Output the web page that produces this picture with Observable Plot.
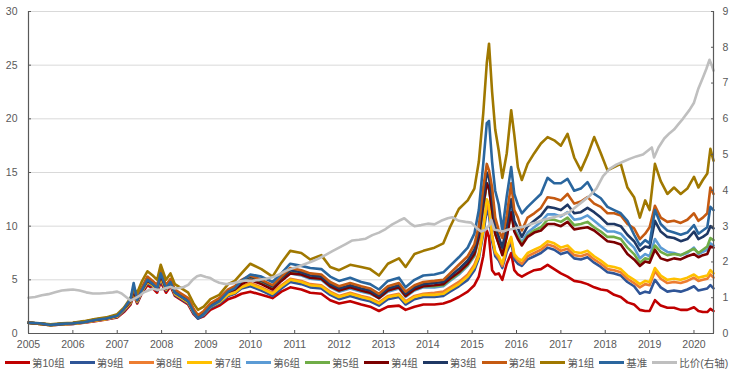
<!DOCTYPE html>
<html><head><meta charset="utf-8">
<script src="https://cdn.jsdelivr.net/npm/d3@7"></script>
<script src="https://cdn.jsdelivr.net/npm/@observablehq/plot@0.6"></script>
<style>
body{margin:0;background:#fff;font-family:"Liberation Sans","Noto Sans CJK SC",sans-serif;}
#chart{width:738px;height:372px;position:relative;overflow:hidden;}
.legend{position:absolute;left:5px;top:355px;white-space:nowrap;font-size:10.5px;color:#595959;display:flex;}
.item{display:flex;align-items:center;margin-right:5px;}
.sw{width:25px;height:3px;margin-right:2px;}
</style></head><body><div id="chart"></div><script>
const names = ["第10组","第9组","第8组","第7组","第6组","第5组","第4组","第3组","第2组","第1组","基准"];
const colors = ["#C00000","#2F5597","#ED7D31","#FFC000","#5B9BD5","#70AD47","#7B0000","#1F3864","#C55A11","#A07800","#2A669E"];
const ratioName = "比价(右轴)";
const ratioColor = "#BFBFBF";
const leftTicks = [0,5,10,15,20,25,30];
const rightTicks = [0,1,2,3,4,5,6,7,8,9];
const yearTicks = [2005,2006,2007,2008,2009,2010,2011,2012,2013,2014,2015,2016,2017,2018,2019,2020];

const dates = [2005.0,2005.25,2005.5,2005.75,2006.0,2006.25,2006.5,2006.75,2007.0,2007.15,2007.3,2007.37,2007.45,2007.55,2007.68,2007.8,2007.9,2007.98,2008.1,2008.2,2008.3,2008.45,2008.6,2008.72,2008.82,2008.95,2009.1,2009.3,2009.5,2009.65,2009.8,2010.0,2010.25,2010.5,2010.7,2010.9,2011.15,2011.35,2011.6,2011.8,2012.0,2012.25,2012.5,2012.7,2012.9,2013.1,2013.35,2013.5,2013.7,2013.9,2014.15,2014.35,2014.5,2014.7,2014.9,2015.05,2015.15,2015.25,2015.33,2015.38,2015.45,2015.52,2015.6,2015.68,2015.78,2015.88,2015.95,2016.03,2016.12,2016.25,2016.4,2016.55,2016.7,2016.85,2017.0,2017.15,2017.3,2017.45,2017.6,2017.75,2017.9,2018.05,2018.2,2018.35,2018.5,2018.65,2018.78,2018.9,2019.0,2019.12,2019.25,2019.4,2019.55,2019.7,2019.85,2020.0,2020.1,2020.2,2020.3,2020.37,2020.44];

const g10 = [1.0,0.9,0.78,0.85,0.9,1.0,1.15,1.3,1.5,2.0,2.7,3.6,2.8,3.7,4.5,4.2,3.8,4.8,3.8,4.4,3.5,3.1,2.7,1.8,1.4,1.6,2.2,2.6,3.2,3.4,3.7,3.9,3.6,3.3,3.9,4.3,4.1,3.8,3.7,3.1,2.8,3.0,2.7,2.5,2.1,2.5,2.6,2.2,2.5,2.7,2.7,2.8,3.0,3.4,3.9,4.5,5.3,7.2,9.6,9.0,5.9,5.5,5.6,5.0,6.5,7.5,5.9,5.5,5.3,5.6,5.9,6.0,6.4,6.0,5.6,5.3,4.9,4.8,4.6,4.3,4.1,4.0,3.6,3.4,2.9,2.7,2.2,2.1,2.1,3.1,2.6,2.4,2.4,2.2,2.2,2.45,2.1,2.0,2.0,2.3,2.1];
const g9 = [1.0,0.9,0.78,0.85,0.9,1.02,1.18,1.32,1.55,2.1,2.8,3.8,2.9,3.8,4.7,4.4,4.0,5.0,4.0,4.6,3.6,3.2,2.8,1.9,1.4,1.7,2.4,2.8,3.5,3.7,4.2,4.4,4.0,3.5,4.2,4.8,4.6,4.3,4.2,3.6,3.2,3.5,3.2,3.0,2.6,3.2,3.4,2.7,3.2,3.4,3.4,3.5,3.9,4.4,5.0,5.9,7.0,9.3,11.5,11.0,8.6,7.2,6.8,6.1,7.6,8.5,6.9,6.5,6.3,6.9,7.2,7.5,8.0,7.8,7.4,7.6,7.0,6.9,7.1,6.6,6.2,5.7,5.6,5.4,4.8,4.4,3.7,3.9,3.8,5.0,4.3,3.9,4.0,3.9,4.1,4.4,4.0,4.1,4.2,4.5,4.2];
const g8 = [1.0,0.9,0.78,0.85,0.92,1.03,1.2,1.34,1.58,2.2,2.9,3.9,3.0,3.9,4.8,4.5,4.1,5.2,4.1,4.7,3.7,3.3,2.9,2.0,1.5,1.8,2.5,2.9,3.7,3.9,4.4,4.7,4.3,3.8,4.5,5.1,4.9,4.6,4.5,3.9,3.5,3.8,3.5,3.3,2.9,3.5,3.7,3.0,3.5,3.7,3.8,3.9,4.3,4.8,5.5,6.4,7.5,10.0,12.0,11.5,9.2,7.5,7.0,6.3,7.9,8.8,7.2,6.8,6.5,7.2,7.5,7.8,8.3,8.1,7.7,7.9,7.3,7.2,7.4,6.9,6.5,6.0,5.9,5.7,5.1,4.7,4.3,4.6,4.5,5.8,5.1,4.7,4.8,4.7,4.9,5.2,4.9,5.0,5.1,5.5,5.2];
const g7 = [1.0,0.9,0.78,0.86,0.92,1.04,1.22,1.36,1.6,2.2,2.9,3.9,3.0,3.9,4.8,4.5,4.1,5.2,4.1,4.7,3.7,3.3,2.9,2.0,1.5,1.8,2.5,2.9,3.6,3.8,4.3,4.6,4.2,3.7,4.4,5.0,4.8,4.5,4.4,3.8,3.4,3.7,3.4,3.2,2.8,3.4,3.6,2.9,3.4,3.6,3.6,3.7,4.1,4.6,5.3,6.2,7.2,9.6,12.5,12.0,9.0,7.6,7.2,6.5,8.1,9.0,7.4,7.0,6.8,7.5,7.8,8.1,8.6,8.4,8.0,8.2,7.6,7.5,7.7,7.2,6.8,6.3,6.2,6.0,5.4,5.0,4.6,4.9,4.8,6.1,5.4,5.0,5.1,5.0,5.2,5.5,5.2,5.3,5.4,5.9,5.6];
const g6 = [1.0,0.92,0.8,0.88,0.95,1.08,1.28,1.42,1.68,2.3,3.1,4.1,3.2,4.1,5.1,4.7,4.3,5.5,4.3,4.9,3.9,3.5,3.1,2.1,1.6,1.9,2.6,3.1,3.9,4.1,4.7,5.1,4.7,4.2,5.0,5.6,5.4,5.1,5.0,4.3,3.9,4.2,3.9,3.7,3.3,3.9,4.2,3.4,4.0,4.3,4.3,4.4,4.9,5.5,6.3,7.2,8.8,11.8,14.0,13.5,11.5,9.3,8.4,7.5,9.2,11.5,9.8,9.2,8.5,9.4,9.9,10.4,11.1,11.1,10.9,11.3,10.6,10.7,11.0,10.5,10.0,9.5,9.5,9.3,8.6,8.0,7.0,7.4,7.2,8.8,8.0,7.6,7.5,7.3,7.5,8.0,7.4,7.6,7.8,8.4,8.2];
const g5 = [1.0,0.92,0.8,0.88,0.95,1.08,1.28,1.42,1.68,2.3,3.0,4.0,3.2,4.1,5.0,4.7,4.3,5.5,4.3,4.9,3.9,3.5,3.1,2.1,1.6,1.9,2.6,3.1,3.9,4.1,4.7,5.1,4.7,4.2,5.0,5.7,5.5,5.2,5.1,4.4,4.0,4.3,4.0,3.8,3.3,4.0,4.3,3.5,4.1,4.4,4.4,4.5,5.0,5.6,6.4,7.3,8.9,11.8,14.0,13.5,11.5,9.3,8.4,7.4,9.1,11.3,9.6,9.0,8.3,9.1,9.6,9.9,10.6,10.6,10.4,10.8,10.1,10.2,10.4,9.9,9.5,9.0,9.0,8.8,8.0,7.4,6.6,7.0,6.9,8.2,7.6,7.3,7.4,7.3,7.6,7.9,7.5,7.8,8.1,8.9,8.7];
const g4 = [1.0,0.92,0.8,0.88,0.95,1.07,1.27,1.4,1.66,2.3,3.0,4.0,3.1,4.0,4.9,4.6,4.2,5.4,4.2,4.8,3.8,3.4,3.0,2.1,1.6,1.9,2.6,3.1,3.9,4.1,4.6,5.0,4.6,4.1,4.9,5.6,5.5,5.2,5.1,4.4,4.0,4.3,4.0,3.8,3.3,4.0,4.3,3.5,4.1,4.4,4.5,4.6,5.1,5.7,6.5,7.4,9.0,12.0,14.0,13.5,11.5,9.3,8.3,7.3,9.0,11.3,9.5,8.8,8.2,9.0,9.4,9.6,10.2,10.2,10.0,10.4,9.7,9.8,9.9,9.6,9.1,8.6,8.5,8.3,7.4,6.9,6.3,6.7,6.6,7.8,7.0,6.8,7.0,6.9,7.2,7.4,7.1,7.3,7.4,8.1,8.0];
const g3 = [1.0,0.93,0.82,0.9,0.97,1.1,1.3,1.45,1.7,2.3,3.1,4.2,3.3,4.2,5.2,4.8,4.4,5.7,4.4,5.0,4.0,3.6,3.2,2.2,1.6,2.0,2.7,3.2,4.0,4.3,4.9,5.3,4.9,4.4,5.2,5.9,5.7,5.4,5.3,4.6,4.2,4.5,4.2,4.0,3.5,4.2,4.5,3.7,4.3,4.6,4.7,4.8,5.3,6.0,6.8,7.8,9.5,12.5,15.0,14.5,12.5,10.0,9.0,8.0,10.0,12.5,10.5,9.8,9.0,10.0,10.5,11.0,11.8,11.7,11.5,12.0,11.2,11.3,11.7,11.3,10.8,10.2,10.2,10.0,9.2,8.6,7.7,8.1,8.0,10.5,9.5,9.0,8.9,8.6,8.8,9.5,8.8,9.0,9.3,10.0,9.8];
const g2 = [1.0,0.93,0.82,0.9,0.97,1.1,1.3,1.45,1.7,2.3,3.1,4.3,3.3,4.2,5.3,4.9,4.5,5.9,4.5,5.1,4.1,3.7,3.3,2.3,1.7,2.1,2.8,3.3,4.1,4.4,5.0,5.4,5.0,4.5,5.3,6.1,5.9,5.6,5.5,4.8,4.4,4.7,4.4,4.2,3.7,4.4,4.7,3.9,4.5,4.8,4.9,5.0,5.6,6.4,7.2,8.3,10.0,13.6,15.8,15.2,13.6,10.8,9.6,8.9,11.0,14.0,11.5,10.8,9.6,10.8,11.2,11.7,12.7,12.6,12.4,13.0,12.1,12.3,12.7,12.1,11.8,11.2,11.2,11.0,10.2,9.8,8.8,9.3,9.9,11.9,10.8,10.4,10.5,10.3,10.6,11.2,10.5,10.8,11.2,13.6,13.0];
const g1 = [1.0,0.95,0.85,0.95,1.0,1.15,1.35,1.5,1.8,2.4,3.3,4.2,3.8,4.8,5.8,5.4,5.0,6.4,5.0,5.6,4.6,4.2,3.8,2.8,2.2,2.5,3.2,3.6,4.6,4.9,5.6,6.5,6.0,5.3,6.6,7.7,7.5,6.9,7.3,6.2,5.9,6.4,6.2,6.0,5.4,6.5,7.0,6.2,7.4,7.7,8.0,8.4,9.9,11.6,12.4,13.5,16.0,20.5,25.2,27.0,22.5,19.0,17.0,14.5,16.8,20.8,18.5,15.5,14.3,15.8,16.8,17.7,18.3,18.0,17.5,18.6,16.4,15.2,16.6,18.3,16.8,15.2,15.5,15.8,13.6,12.7,10.8,12.4,11.5,15.8,14.2,13.0,13.6,13.0,13.5,14.6,13.6,14.3,14.9,17.2,16.1];
const bench = [1.0,0.95,0.8,0.9,0.95,1.05,1.25,1.4,1.65,2.3,3.2,4.7,3.1,4.0,5.0,4.6,4.2,5.6,4.2,4.8,3.8,3.4,3.0,2.0,1.4,1.8,2.5,3.0,3.9,4.2,4.9,5.5,5.3,4.8,5.6,6.5,6.3,6.1,6.0,5.3,4.9,5.2,4.8,4.6,4.1,4.9,5.2,4.3,5.0,5.4,5.5,5.7,6.3,7.1,8.0,9.3,11.5,15.8,19.6,19.8,16.0,13.3,12.0,9.6,12.8,15.5,13.0,12.0,11.2,11.8,12.4,13.0,14.5,14.0,14.0,14.4,13.3,13.5,14.1,13.0,12.6,11.8,11.5,11.2,10.5,9.2,8.2,8.7,8.4,11.5,10.2,9.6,9.4,9.2,9.4,10.1,9.3,9.6,9.9,11.8,11.5];
const seriesValues = [g10,g9,g8,g7,g6,g5,g4,g3,g2,g1,bench];

const ratioDates = [2005.0,2005.15,2005.3,2005.45,2005.6,2005.75,2005.9,2006.0,2006.15,2006.3,2006.45,2006.6,2006.75,2006.9,2007.0,2007.1,2007.2,2007.3,2007.4,2007.5,2007.6,2007.7,2007.8,2007.9,2008.0,2008.1,2008.2,2008.3,2008.4,2008.5,2008.6,2008.7,2008.8,2008.88,2009.0,2009.1,2009.2,2009.3,2009.45,2009.6,2009.75,2009.9,2010.05,2010.2,2010.35,2010.5,2010.65,2010.8,2010.95,2011.1,2011.25,2011.4,2011.55,2011.7,2011.85,2012.0,2012.15,2012.3,2012.45,2012.6,2012.75,2012.9,2013.05,2013.2,2013.35,2013.47,2013.6,2013.7,2013.85,2014.0,2014.15,2014.3,2014.45,2014.55,2014.7,2014.85,2014.98,2015.1,2015.2,2015.3,2015.4,2015.43,2015.5,2015.6,2015.7,2015.8,2015.9,2016.0,2016.15,2016.3,2016.45,2016.6,2016.75,2016.9,2017.05,2017.2,2017.35,2017.5,2017.65,2017.8,2017.95,2018.1,2018.25,2018.4,2018.55,2018.7,2018.85,2019.0,2019.05,2019.1,2019.2,2019.33,2019.45,2019.55,2019.65,2019.75,2019.9,2020.0,2020.1,2020.2,2020.28,2020.35,2020.4,2020.44];
const ratioValues = [1.0,1.02,1.07,1.1,1.15,1.2,1.22,1.23,1.2,1.15,1.12,1.12,1.13,1.15,1.17,1.12,1.02,0.92,0.98,1.05,1.15,1.2,1.25,1.22,1.23,1.27,1.3,1.26,1.27,1.3,1.36,1.5,1.6,1.63,1.58,1.55,1.47,1.42,1.38,1.4,1.45,1.48,1.47,1.5,1.53,1.57,1.65,1.75,1.82,1.88,1.95,2.02,2.1,2.2,2.3,2.4,2.5,2.6,2.62,2.65,2.75,2.82,2.92,3.05,3.15,3.22,3.08,3.0,3.03,3.07,3.05,3.15,3.22,3.25,3.15,3.12,3.1,2.95,2.85,2.9,3.05,3.18,2.9,2.88,2.85,2.9,2.92,2.95,2.98,3.05,3.1,3.17,3.22,3.27,3.32,3.4,3.55,3.7,3.85,4.05,4.4,4.6,4.72,4.8,4.88,4.95,5.0,5.15,5.2,4.92,5.2,5.45,5.6,5.7,5.85,6.0,6.25,6.45,6.85,7.15,7.4,7.65,7.5,7.35];

const rows = [];
names.forEach((s, i) => dates.forEach((t, j) => rows.push({s, t, v: seriesValues[i][j]})));
const ratioRows = ratioDates.map((t, j) => ({t, r: ratioValues[j]}));
const scaleR = 30 / 9;
const xEnd = dates[dates.length - 1];
const axisColor = "#595959";

const chart = Plot.plot({
  width: 738, height: 354,
  marginLeft: 28, marginRight: 25, marginTop: 11, marginBottom: 21,
  x: {domain: [2005, xEnd]},
  y: {domain: [0, 30]},
  color: {domain: names, range: colors},
  style: {fontFamily: '"Liberation Sans","Noto Sans CJK SC",sans-serif', fontSize: "10.5px", color: "#595959", background: "#fff"},
  marks: [
    Plot.gridY(leftTicks.filter(t => t > 0), {stroke: "#D9D9D9", strokeOpacity: 1, strokeWidth: 1}),
    Plot.line(rows, {x: "t", y: "v", z: "s", stroke: "s", strokeWidth: 2.6, strokeLinejoin: "round"}),
    Plot.line(ratioRows, {x: "t", y: d => d.r * scaleR, stroke: ratioColor, strokeWidth: 2.6, strokeLinejoin: "round"}),
    Plot.ruleX([2005], {stroke: axisColor, strokeWidth: 1.2}),
    Plot.ruleX([xEnd], {stroke: axisColor, strokeWidth: 1.2}),
    Plot.ruleY([0], {stroke: axisColor, strokeWidth: 1.2}),
    Plot.axisY(leftTicks, {anchor: "left", tickSize: 0, tickPadding: 11, label: null, fill: "#595959"}),
    Plot.axisY(leftTicks, {anchor: "left", tickSize: 3, dx: 3, tickFormat: () => "", label: null, stroke: axisColor}),
    Plot.axisY(rightTicks.map(t => t * scaleR), {anchor: "right", tickSize: 0, tickPadding: 9, label: null, fill: "#595959", tickFormat: d => String(Math.round(d / scaleR))}),
    Plot.axisY(rightTicks.map(t => t * scaleR), {anchor: "right", tickSize: 3, dx: -3, tickFormat: () => "", label: null, stroke: axisColor}),
    Plot.axisX(yearTicks, {anchor: "bottom", tickSize: 0, tickPadding: 7, label: null, fill: "#595959", tickFormat: d => String(d)}),
    Plot.axisX(yearTicks, {anchor: "bottom", tickSize: 3, dy: -3, tickFormat: () => "", label: null, stroke: axisColor})
  ]
});
const root = document.getElementById("chart");
root.appendChild(chart);

const legend = document.createElement("div");
legend.className = "legend";
const legendItems = names.map((n, i) => [n, colors[i]]).concat([[ratioName, ratioColor]]);
legendItems.forEach(([n, c]) => {
  const it = document.createElement("div"); it.className = "item";
  const sw = document.createElement("div"); sw.className = "sw"; sw.style.background = c;
  const tx = document.createElement("span"); tx.textContent = n;
  it.appendChild(sw); it.appendChild(tx); legend.appendChild(it);
});
root.appendChild(legend);
</script></body></html>
